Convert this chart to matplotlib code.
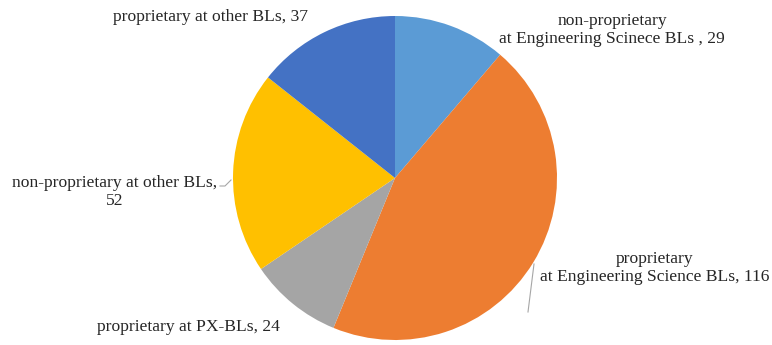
import matplotlib.pyplot as plt

labels = ["non-proprietary\nat Engineering Scinece BLs ",
          "proprietary\nat Engineering Science BLs",
          "proprietary at PX-BLs",
          "non-proprietary at other BLs,",
          "proprietary at other BLs"]
values = [29, 116, 24, 52, 37]
colors = ["#5B9BD5", "#ED7D31", "#A5A5A5", "#FFC000", "#4472C4"]

W, H = 772, 345
fig = plt.figure(figsize=(W / 100, H / 100), dpi=100)
ax = fig.add_axes([0, 0, 1, 1])

cx, cy, r = 395, H - 178, 162
ax.pie(values, colors=colors, startangle=90, counterclock=False,
       center=(cx, cy), radius=r, frame=True,
       wedgeprops=dict(linewidth=0))
ax.set_xlim(0, W)
ax.set_ylim(0, H)
ax.set_aspect("equal")
ax.axis("off")

font = dict(family="Liberation Serif", fontsize=12.6, color="#262626")

# label text: category name plus value
ax.text(612, H - 30, labels[0] + ", " + str(values[0]), ha="center", va="center",
        linespacing=1.15, **font)
ax.text(655, H - 268, labels[1] + ", " + str(values[1]), ha="center", va="center",
        linespacing=1.15, **font)
ax.text(97, H - 327, labels[2] + ", " + str(values[2]), ha="left", va="center", **font)
ax.text(115, H - 192, labels[3] + "\n" + str(values[3]),
        ha="center", va="center", linespacing=1.15, **font)
ax.text(113, H - 17, labels[4] + ", " + str(values[4]), ha="left", va="center", **font)

# leader lines
ax.plot([534, 528], [H - 264, H - 312], color="#A6A6A6", lw=0.8)
ax.plot([220, 225, 231], [H - 186, H - 186, H - 180], color="#A6A6A6", lw=0.8)

fig.savefig("out.png", dpi=100, facecolor="white")
